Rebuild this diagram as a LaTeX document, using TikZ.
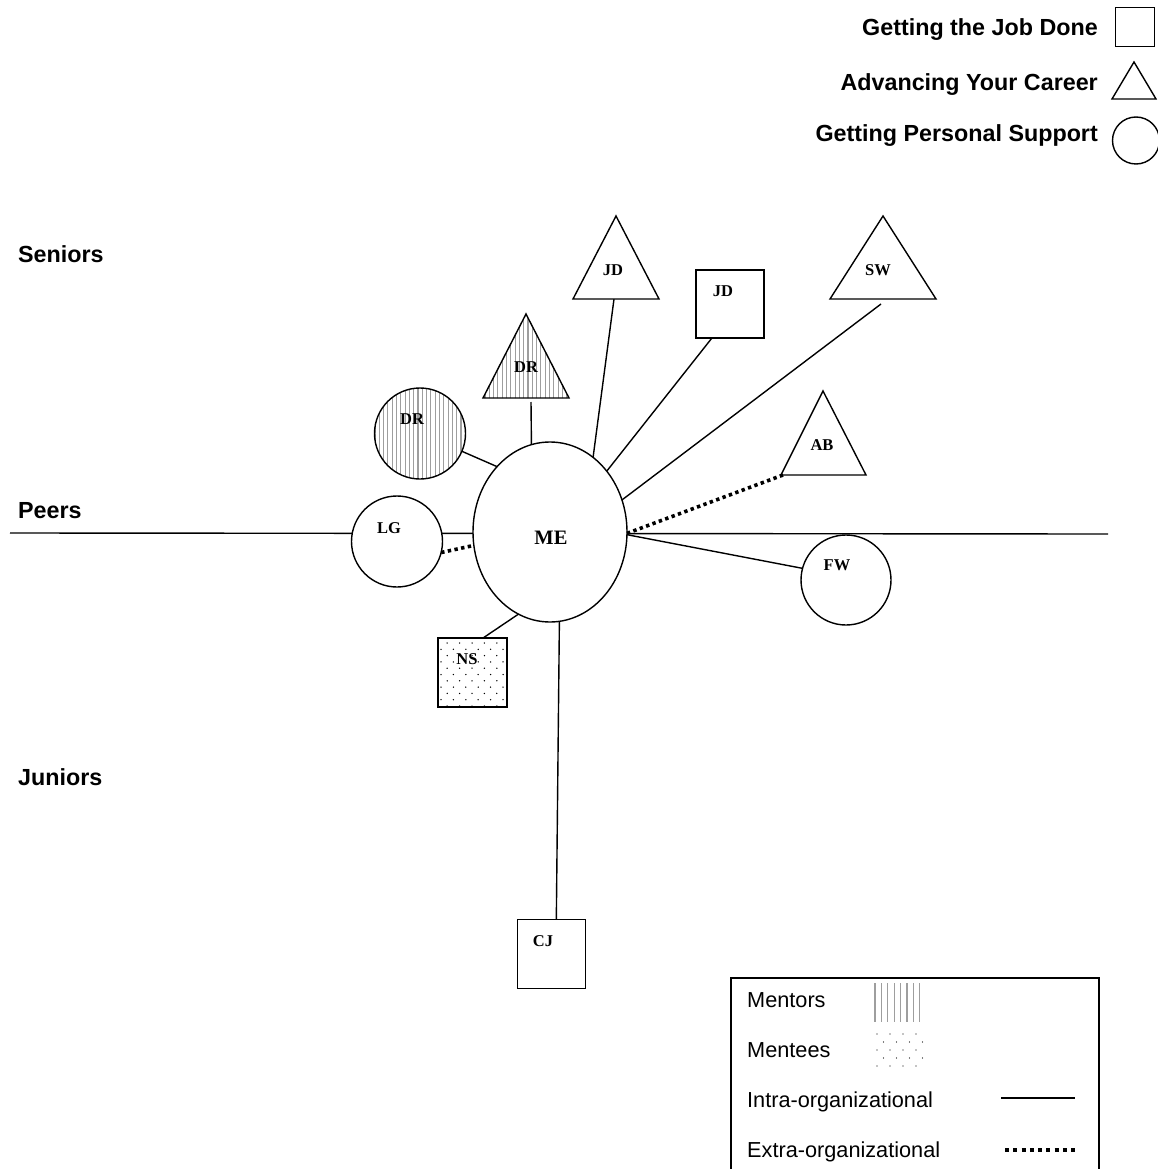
\documentclass[tikz,border=0pt]{standalone}
\usepackage{fontspec}
\setmainfont{Liberation Serif}
\newfontfamily\arialf{Liberation Sans}
\usetikzlibrary{shapes.geometric}
\pgfdeclarelayer{back}
\pgfdeclarelayer{bg}
\pgfsetlayers{back,bg,main}
\begin{document}
\begin{tikzpicture}[x=1pt,y=-1pt,
  conn/.style={line width=1.4pt},
  extra/.style={line width=3.6pt, dash pattern=on 3.4pt off 3.4pt},
  shp/.style={draw, line width=1.4pt, fill=white, inner sep=0pt, outer sep=0pt},
  shpo/.style={draw, line width=1.4pt, inner sep=0pt, outer sep=0pt},
  hatchline/.style={draw=black!38, line width=1.1pt},
  nlab/.style={font=\fontsize{16.5}{16.5}\selectfont\bfseries, inner sep=0pt},
  catlab/.style={font=\arialf\fontsize{23.3}{24}\selectfont\bfseries, inner sep=0pt, anchor=base west},
  keylab/.style={font=\arialf\fontsize{23.3}{24}\selectfont\bfseries, inner sep=0pt, anchor=base east},
  leglab/.style={font=\arialf\fontsize{21.7}{22}\selectfont, inner sep=0pt, anchor=base west}
]
\clip (0,0) rectangle (1158,1169);
\begin{pgfonlayer}{back}
\fill[white] (0,0) rectangle (1158,1169);
\end{pgfonlayer}

% ---- top key ----
\node[keylab] (k1) at (1098,36) {Getting the Job Done};
\node[keylab] (k2) at (1098,90.5) {Advancing Your Career};
\node[keylab] (k3) at (1098,142) {Getting Personal Support};
\node[shp, minimum size=39pt] (k1s) at (1135,27) {};
\draw[line width=1.4pt] (1112,99) -- (1134,62) -- (1156,99) -- cycle;
\node[shp, circle, minimum size=47pt] (k3c) at (1136,140.5) {};

% ---- category labels ----
\node[catlab] (sen) at (18,262) {Seniors};
\node[catlab] (peer) at (18,518) {Peers};
\node[catlab] (jun) at (18,785) {Juniors};

% ---- central node ----
\node[shp, ellipse, minimum width=154pt, minimum height=180pt] (ME) at (550,532) {};
\node[nlab, font=\fontsize{20.5}{20.5}\selectfont\bfseries] (MEl) at (551,538) {ME};

% ---- DR circle (mentor) ----
\fill[white] (420,433.5) circle[radius=45.5pt];
\begin{scope}
  \clip (420,433.5) circle[radius=45.5pt];
  \foreach \xx in {0,...,22} \draw[hatchline] ({375+4.3*\xx},385) -- ({375+4.3*\xx},482);
\end{scope}
\node[shpo, circle, minimum size=91pt] (DRc) at (420,433.5) {};
\node[nlab] (DRcl) at (412,419) {DR};

% ---- DR triangle (mentor) ----
\begin{scope}
  \clip (483,398) -- (526,314) -- (569,398) -- cycle;
  \foreach \xx in {0,...,20} \draw[hatchline] ({485+4.3*\xx},310) -- ({485+4.3*\xx},400);
\end{scope}
\draw[line width=1.4pt] (483,398) -- (526,314) -- (569,398) -- cycle;
\node[nlab] (DRtl) at (526,367) {DR};
\coordinate (DRtb) at (531,402);

% ---- JD triangle ----
\draw[line width=1.4pt, fill=white] (573,299) -- (616,216) -- (659,299) -- cycle;
\node[nlab] (JDtl) at (613,270) {JD};
\coordinate (JDtb) at (614,299);

% ---- JD square ----
\node[shp, minimum size=68pt] (JDs) at (730,304) {};
\node[nlab] (JDsl) at (723,291) {JD};

% ---- SW triangle ----
\draw[line width=1.4pt, fill=white] (830,299) -- (883,216) -- (936,299) -- cycle;
\node[nlab] (SWl) at (878,270) {SW};
\coordinate (SWb) at (881,304);

% ---- AB triangle ----
\draw[line width=1.4pt, fill=white] (781,475) -- (823,391) -- (866,475) -- cycle;
\node[nlab] (ABl) at (822,445) {AB};
\coordinate (ABb) at (783,475);

% ---- LG circle ----
\node[shp, circle, minimum size=91pt] (LGc) at (397,541.5) {};
\node[nlab] (LGl) at (389,528) {LG};

% ---- FW circle ----
\node[shp, circle, minimum size=90pt] (FWc) at (846,580) {};
\node[nlab] (FWl) at (837,565) {FW};

% ---- NS square (mentee) ----
\node[shp, minimum size=69pt] (NSs) at (472.5,672.5) {};
\begin{scope}
  \clip (439,639) rectangle (506,706);
  \foreach \rr in {0,...,10} {
    \foreach \cc in {0,...,6} {
      \fill ({441+6.2*mod(\rr+1,2)+12.4*\cc}, {643+6.3*\rr}) circle[radius=0.75pt];
    }
  }
\end{scope}
\node[nlab] (NSl) at (467,659) {NS};

% ---- CJ square ----
\node[shp, minimum size=68.5pt] (CJs) at (551.5,954) {};
\node[nlab] (CJl) at (543,941) {CJ};

% ---- baseline ----
\coordinate (Lend) at (10,533);
\coordinate (Rend) at (1108,534);

% ---- connectors ----
\begin{pgfonlayer}{bg}
  \draw[conn] (Lend) -- (Rend);
  \draw[conn] (DRtb) -- (ME.102);
  \draw[conn] (DRc.-23) -- (ME.129);
  \draw[conn] (JDtb) -- (ME.60);
  \draw[conn] (JDs.-118) -- (ME.47);
  \draw[conn] (SWb) -- (ME.24);
  \draw[conn] (ME.-2) -- (FWc.165);
  \draw[conn] (NSs.73) -- (ME.249);
  \draw[conn] (CJs.82) -- (ME.276);
\end{pgfonlayer}
\draw[extra] (ABb) -- (ME.-1);
\draw[extra] (LGc.-14) -- (ME.190);

% ---- bottom legend ----
\draw[line width=1.4pt] (731,978) rectangle (1099,1190);
\node[leglab] (lm) at (747,1007) {Mentors};
\node[leglab] (lme) at (747,1057) {Mentees};
\node[leglab] (li) at (747,1107) {Intra-organizational};
\node[leglab] (le) at (747,1157) {Extra-organizational};
\foreach \ii in {0,...,7} \draw[hatchline] ({875+6.4*\ii},983) -- ({875+6.4*\ii},1022);
\foreach \rr in {0,...,4} {
  \foreach \cc in {0,...,3} {
    \fill ({877+6.5*mod(\rr,2)+13*\cc}, {1034+8*\rr}) circle[radius=0.7pt];
  }
}
\coordinate (ia) at (1001,1098);
\coordinate (ib) at (1075,1098);
\draw[conn] (ia) -- (ib);
\coordinate (ea) at (1005,1150);
\coordinate (eb) at (1075,1150);
\draw[line width=3.6pt, dash pattern=on 4pt off 4.25pt] (ea) -- (eb);
\end{tikzpicture}
\end{document}
